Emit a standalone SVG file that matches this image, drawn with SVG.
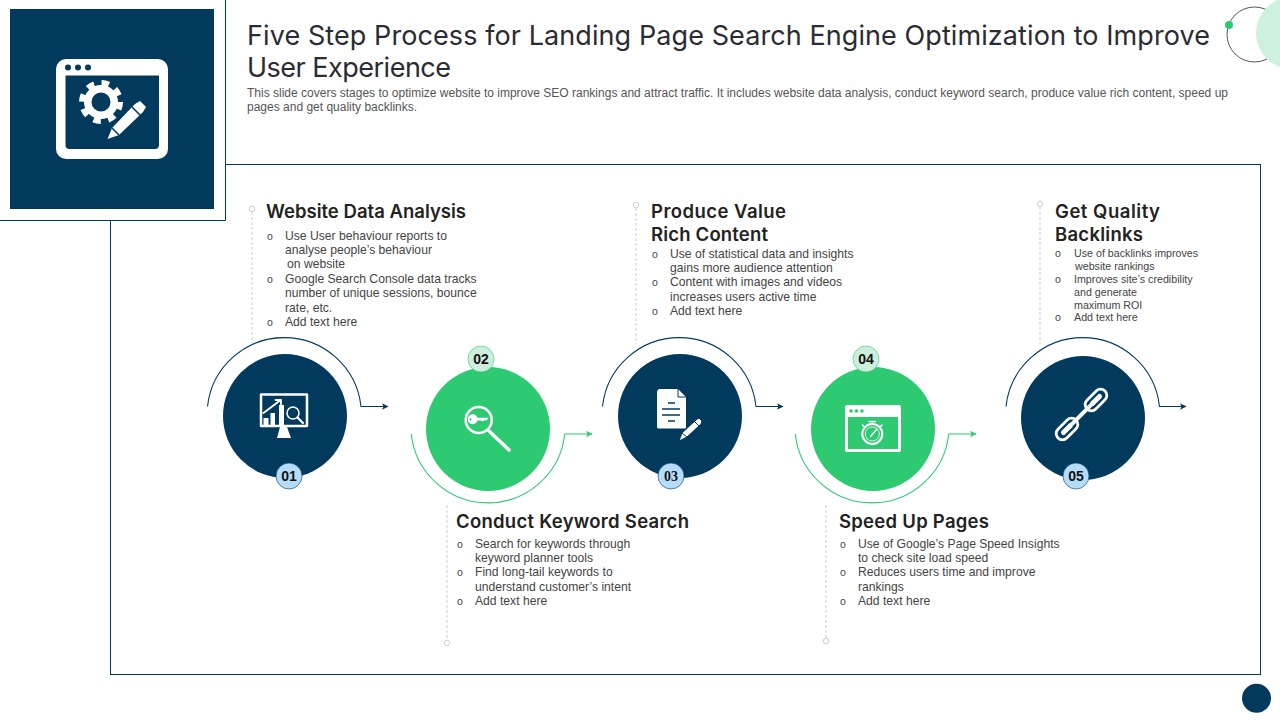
<svg xmlns="http://www.w3.org/2000/svg" width="1280" height="720" viewBox="0 0 1280 720">
<style>
.title{font:27px "Inter","Liberation Sans",sans-serif;fill:#2b2b33}
.sub{font:12px "Liberation Sans",Arial,sans-serif;fill:#555}
.h{font:600 18.5px "Inter","Liberation Sans",sans-serif;fill:#222}
.t{font:12.15px "Liberation Sans",Arial,sans-serif;fill:#444}
.t2{font:10.7px "Liberation Sans",Arial,sans-serif;fill:#444}
.o{font-size:10.5px}
.b{font:bold 14px "Liberation Sans",Arial,sans-serif;fill:#111;text-anchor:middle}
.navy{fill:#023a5e}.green{fill:#2dca72}
.bb{fill:#b5ddfb;stroke:#023a5e;stroke-width:.6}
.bg{fill:#cdeedd;stroke:#2dca72;stroke-width:.6}
.an{fill:none;stroke:#023a5e;stroke-width:1.1}
.ag{fill:none;stroke:#2dca72;stroke-width:1.1}
.lead{stroke:#c9cfcf;stroke-width:1;stroke-dasharray:3 2;fill:none}
.dot{fill:#fff;stroke:#c9cfcf;stroke-width:1}
.w{fill:#fff}.ws{fill:none;stroke:#fff;stroke-linecap:round;stroke-linejoin:round}
</style>
<defs>
<marker id="mn" markerWidth="9" markerHeight="9" refX="7" refY="4" orient="auto" markerUnits="userSpaceOnUse"><path d="M1 .8L7.500 4L1 7.200L2.600 4Z" fill="#023a5e"/></marker>
<marker id="mg" markerWidth="9" markerHeight="9" refX="7" refY="4" orient="auto" markerUnits="userSpaceOnUse"><path d="M1 .8L7.500 4L1 7.200L2.600 4Z" fill="#2dca72"/></marker>
</defs>
<rect width="1280" height="720" fill="#fff"/>
<g id="deco"><circle cx="1254.500" cy="34.500" r="27.500" fill="none" stroke="#555" stroke-width="1"/><circle cx="1292" cy="33" r="36" fill="#cdf1dd"/><circle cx="1229" cy="25" r="4" fill="#2dca72"/></g>
<rect id="frame" x="110.500" y="164.500" width="1150" height="510" fill="none" stroke="#023a5e" stroke-width="1"/>
<g id="header-tile"><path d="M0 220.500H225.500V0" fill="#fff" stroke="#023a5e" stroke-width="1"/><rect x="10" y="9" width="204" height="200" class="navy"/>
<path fill-rule="evenodd" class="w" d="M66 59H158a10 10 0 0 1 10 10V149a10 10 0 0 1-10 10H66a10 10 0 0 1-10-10V69a10 10 0 0 1 10-10ZM65.500 75.500V145a4 4 0 0 0 4 4H155a4 4 0 0 0 4-4V75.500Z"/>
<circle cx="68" cy="67.500" r="3" class="navy"/><circle cx="78" cy="67.500" r="3" class="navy"/><circle cx="88" cy="67.500" r="3" class="navy"/>
<circle cx="101" cy="102" r="13.250" fill="none" stroke="#fff" stroke-width="7.500"/><circle cx="101" cy="102" r="19" fill="none" stroke="#fff" stroke-width="6" stroke-dasharray="7.460 7.460"/>
<path class="w" d="M107.500 139L112 128L135 104L140 101L146 107L143 112L119 135Z"/><path d="M132 107L141 116M112 128L119 135" stroke="#023a5e" stroke-width="1.500"/></g>
<g id="connectors">
<path class="lead" d="M252 212V344M636 208V344M447 505V640M826 505V638M1040 207V344"/>
<circle class="dot" cx="252" cy="209" r="2.800"/><circle class="dot" cx="636" cy="205" r="2.800"/><circle class="dot" cx="447" cy="643" r="2.800"/><circle class="dot" cx="826" cy="641" r="2.800"/><circle class="dot" cx="1040" cy="204" r="2.800"/>
<path class="an" marker-end="url(#mn)" d="M207.500 406.500A77.200 77.200 0 0 1 361 406.500H388"/>
<path class="ag" marker-end="url(#mg)" d="M411.250 434A77.200 77.200 0 0 0 564.750 434H592"/>
<path class="an" marker-end="url(#mn)" d="M602.500 406.500A77.200 77.200 0 0 1 756 406.500H783"/>
<path class="ag" marker-end="url(#mg)" d="M795.250 434A77.200 77.200 0 0 0 948.750 434H976"/>
<path class="an" marker-end="url(#mn)" d="M1006 406.500A77.200 77.200 0 0 1 1159.500 406.500H1186"/>
</g>
<text class="title"><tspan x="247" y="45" textLength="963" lengthAdjust="spacing">Five Step Process for Landing Page Search Engine Optimization to Improve</tspan><tspan x="247" y="77" textLength="204" lengthAdjust="spacing">User Experience</tspan></text>
<text class="sub"><tspan x="247" y="97" textLength="981" lengthAdjust="spacing">This slide covers stages to optimize website to improve SEO rankings and attract traffic. It includes website data analysis, conduct keyword search, produce value rich content, speed up</tspan><tspan x="247" y="111">pages and get quality backlinks.</tspan></text>
<g id="node1"><circle cx="285" cy="416" r="62" class="navy"/>
<path class="ws" stroke-width="2.500" d="M261 394.500H307V426H261Z"/><path class="w" d="M280 427H287L291 438H277Z"/>
<path class="w" d="M263.500 418h5v7h-5zM270.500 413h4.500v12h-4.500zM279 405h5v20h-5z"/>
<path class="ws" stroke-width="1.800" d="M263.500 413L280 400.500M275.500 400H281V405"/><circle cx="293" cy="413" r="6" fill="none" stroke="#fff" stroke-width="1.500"/><path class="ws" stroke-width="2.200" d="M297.500 417.500L303 423"/>
<circle cx="289" cy="476" r="13" class="bb"/><text class="b" x="289" y="481">01</text>
<text class="h" x="266" y="218" textLength="200" lengthAdjust="spacing">Website Data Analysis</text>
<text class="t"><tspan class="o" x="267" y="240">o</tspan><tspan x="285" y="240">Use User behaviour reports to</tspan><tspan x="285" y="254">analyse people’s behaviour</tspan><tspan x="287" y="268">on website</tspan><tspan class="o" x="267" y="283">o</tspan><tspan x="285" y="283">Google Search Console data tracks</tspan><tspan x="285" y="297">number of unique sessions, bounce</tspan><tspan x="285" y="312">rate, etc.</tspan><tspan class="o" x="267" y="326">o</tspan><tspan x="285" y="326">Add text here</tspan></text></g>
<g id="node2"><circle cx="488" cy="429" r="62" class="green"/>
<circle cx="478.700" cy="420" r="13" fill="none" stroke="#fff" stroke-width="2.500"/><path class="ws" stroke-width="3.500" d="M489 431L509 450"/>
<path class="w" d="M472.700 414.300a5 5 0 1 1 0 10a5 5 0 1 1 0-10Z"/><path class="w" d="M476 417.700H488.700L486.500 420.500L484.500 420L483 421.500L481 420.500H476Z"/><circle cx="470.500" cy="419.300" r="1.100" class="green"/>
<circle cx="481" cy="359" r="13" class="bg"/><text class="b" x="481" y="364">02</text>
<text class="h" x="456" y="528" textLength="233" lengthAdjust="spacing">Conduct Keyword Search</text>
<text class="t"><tspan class="o" x="457" y="548">o</tspan><tspan x="475" y="548">Search for keywords through</tspan><tspan x="475" y="562">keyword planner tools</tspan><tspan class="o" x="457" y="576">o</tspan><tspan x="475" y="576">Find long-tail keywords to</tspan><tspan x="475" y="591">understand customer’s intent</tspan><tspan class="o" x="457" y="605">o</tspan><tspan x="475" y="605">Add text here</tspan></text></g>
<g id="node3"><circle cx="680" cy="416" r="62" class="navy"/>
<path class="w" d="M659 389H678L686 397V427a1.500 1.500 0 0 1-1.500 1.500H658.500a1.500 1.500 0 0 1-1.500-1.500V391Z"/><path d="M678 389V397H686" fill="none" stroke="#023a5e" stroke-width="1"/>
<path d="M668 403H675M662 409H680M662 415H680M668 421H675" stroke="#023a5e" stroke-width="1.500"/>
<path class="w" d="M679 441L682 433L696 420L699 418L702 421L701 424L687 437Z" stroke="#023a5e" stroke-width="1"/><path d="M694 421L700 427M682 433L687 437" stroke="#023a5e" stroke-width="1"/>
<circle cx="671" cy="476" r="13" class="bb"/><text class="b" style="font-family:'Liberation Serif',serif" x="671" y="481">03</text>
<text class="h"><tspan x="651" y="218" textLength="135" lengthAdjust="spacing">Produce Value</tspan><tspan x="651" y="241" textLength="117" lengthAdjust="spacing">Rich Content</tspan></text>
<text class="t"><tspan class="o" x="652" y="258">o</tspan><tspan x="670" y="258">Use of statistical data and insights</tspan><tspan x="670" y="272">gains more audience attention</tspan><tspan class="o" x="652" y="286">o</tspan><tspan x="670" y="286">Content with images and videos</tspan><tspan x="670" y="301">increases users active time</tspan><tspan class="o" x="652" y="315">o</tspan><tspan x="670" y="315">Add text here</tspan></text></g>
<g id="node4"><circle cx="873" cy="429" r="62" class="green"/>
<path fill-rule="evenodd" class="w" d="M847 405H899a2 2 0 0 1 2 2V450a2 2 0 0 1-2 2H847a2 2 0 0 1-2-2V407a2 2 0 0 1 2-2ZM848 417V449H898V417Z"/>
<circle cx="851" cy="411" r="1.800" class="green"/><circle cx="856.500" cy="411" r="1.800" class="green"/><circle cx="862" cy="411" r="1.800" class="green"/>
<circle cx="872.300" cy="434" r="10" fill="none" stroke="#fff" stroke-width="2"/><circle cx="872.300" cy="434" r="7" fill="none" stroke="#fff" stroke-width=".8"/><path class="ws" stroke-width="1.500" d="M869 421.500H875.500M872.300 422V424M862.500 425L864.500 427M882 425L880 427M870.500 436.500L876.500 429.500"/>
<circle cx="866" cy="359" r="13" class="bg"/><text class="b" x="866" y="364">04</text>
<text class="h" x="839" y="528" textLength="150" lengthAdjust="spacing">Speed Up Pages</text>
<text class="t"><tspan class="o" x="840" y="548">o</tspan><tspan x="858" y="548">Use of Google’s Page Speed Insights</tspan><tspan x="858" y="562">to check site load speed</tspan><tspan class="o" x="840" y="576">o</tspan><tspan x="858" y="576">Reduces users time and improve</tspan><tspan x="858" y="591">rankings</tspan><tspan class="o" x="840" y="605">o</tspan><tspan x="858" y="605">Add text here</tspan></text></g>
<g id="node5"><circle cx="1083" cy="418" r="62" class="navy"/>
<g transform="rotate(-45 1081.500 414.500)"><rect x="1048.250" y="408.250" width="25.500" height="12.500" rx="6.250" fill="#023a5e" stroke="#fff" stroke-width="2.800"/><rect x="1089.250" y="408.250" width="25.500" height="12.500" rx="6.250" fill="#023a5e" stroke="#fff" stroke-width="2.800"/><rect x="1053.500" y="412" width="15" height="5" rx="2.500" class="w"/><rect x="1094.500" y="412" width="15" height="5" rx="2.500" class="w"/><path d="M1068 414.500H1095" stroke="#fff" stroke-width="4"/></g>
<circle cx="1076" cy="476" r="13" class="bb"/><text class="b" x="1076" y="481">05</text>
<text class="h"><tspan x="1055" y="218" textLength="105" lengthAdjust="spacing">Get Quality</tspan><tspan x="1055" y="241" textLength="88" lengthAdjust="spacing">Backlinks</tspan></text>
<text class="t2"><tspan class="o" x="1055" y="257">o</tspan><tspan x="1074" y="257">Use of backlinks improves</tspan><tspan x="1075" y="270">website rankings</tspan><tspan class="o" x="1055" y="283">o</tspan><tspan x="1074" y="283">Improves site’s credibility</tspan><tspan x="1074" y="296">and generate</tspan><tspan x="1074" y="309">maximum  ROI</tspan><tspan class="o" x="1055" y="321">o</tspan><tspan x="1074" y="321">Add text here</tspan></text></g>
<circle id="page-badge" cx="1256.500" cy="698.300" r="14.500" class="navy"/>
</svg>
